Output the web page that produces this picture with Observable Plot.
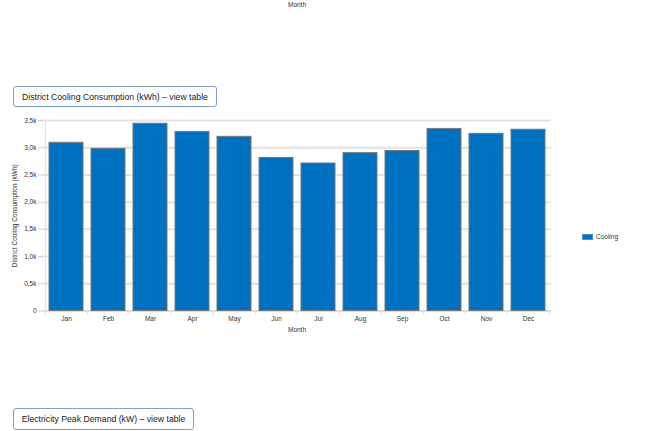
<!DOCTYPE html>
<html>
<head>
<meta charset="utf-8">
<script src="https://cdn.jsdelivr.net/npm/d3@7"></script>
<script src="https://cdn.jsdelivr.net/npm/@observablehq/plot@0.6"></script>
<style>
  html, body { margin: 0; padding: 0; background: #fff; }
  body { width: 658px; height: 431px; position: relative; overflow: hidden; font-family: "Liberation Sans", Arial, sans-serif; }
  .btn { position: absolute; box-sizing: border-box; border: 1px solid #7f9fcf; border-radius: 3px; background: #fff;
         font-size: 8.7px; color: #222; display: flex; align-items: center; justify-content: center; white-space: nowrap; }
  .topmonth { position: absolute; left: 297px; top: 4px; transform: translate(-50%, -50%); font-size: 6.5px; color: #333; }
  .legend { position: absolute; left: 582px; top: 233px; display: flex; align-items: center; font-size: 6.5px; color: #333; }
  .legend .sw { width: 11px; height: 6px; background: #0070c0; margin-right: 3px; border: 0.5px solid #4a90d0; box-sizing: border-box; }
  #chart { position: absolute; left: 0; top: 110px; }
</style>
</head>
<body>
<div class="topmonth">Month</div>
<div class="btn" style="left:13px; top:86px; width:204px; height:21px;">District Cooling Consumption (kWh) – view table</div>
<div id="chart"></div>
<div class="legend"><div class="sw"></div><span>Cooling</span></div>
<div class="btn" style="left:13px; top:408px; width:181px; height:22px;">Electricity Peak Demand (kW) – view table</div>
<script>
const months = ["Jan","Feb","Mar","Apr","May","Jun","Jul","Aug","Sep","Oct","Nov","Dec"];
const cooling = [3090, 2980, 3440, 3290, 3200, 2810, 2710, 2900, 2940, 3345, 3255, 3330];
const yTicks = [0, 500, 1000, 1500, 2000, 2500, 3000, 3500];
const yTickLabels = ["0", "0,5k", "1,0k", "1,5k", "2,0k", "2,5k", "3,0k", "3,5k"];
const seriesName = "Cooling";

const data = months.map((m, i) => ({month: m, value: cooling[i]}));

const W = 560, H = 225, ML = 42, MR = 9;
const step = (W - ML - MR) / months.length;

const chart = Plot.plot({
  width: W, height: H,
  marginLeft: ML, marginRight: MR, marginTop: 10, marginBottom: 24.5,
  style: {fontFamily: "'Liberation Sans', Arial, sans-serif", fontSize: "6.5px", color: "#333", background: "transparent"},
  x: {domain: months, paddingInner: 0.2, paddingOuter: 0.1, label: null},
  y: {domain: [0, 3500], label: null},
  marks: [
    Plot.gridY(yTicks, {stroke: "#e3e3e3", strokeOpacity: 1, strokeWidth: 2}),
    Plot.ruleX([months[0]], {dx: -step / 2, stroke: "#dcdcdc", strokeWidth: 1}),
    Plot.ruleY([0], {stroke: "#dcdcdc", strokeWidth: 1.5}),
    Plot.ruleX(months, {x: d => d, y1: 0, y2: 0, insetBottom: -4, dx: -step / 2, stroke: "#dcdcdc"}),
    Plot.ruleX([months[months.length - 1]], {y1: 0, y2: 0, insetBottom: -4, dx: step / 2, stroke: "#dcdcdc"}),
    Plot.barY(data, {x: "month", y: "value", fill: "#0070c0", stroke: "#777", strokeWidth: 1}),
    Plot.axisY(yTicks, {
      tickFormat: d => yTickLabels[yTicks.indexOf(d)],
      tickSize: 4, tickPadding: 2, stroke: "#ccc",
      label: "District Cooling Consumption (kWh)", labelAnchor: "center", labelArrow: "none", labelOffset: 30
    }),
    Plot.axisX({tickSize: 0, tickPadding: 5, label: "Month", labelAnchor: "center", labelArrow: "none", labelOffset: 21})
  ]
});
document.getElementById("chart").appendChild(chart);
document.querySelector(".legend span").textContent = seriesName;
</script>
</body>
</html>
